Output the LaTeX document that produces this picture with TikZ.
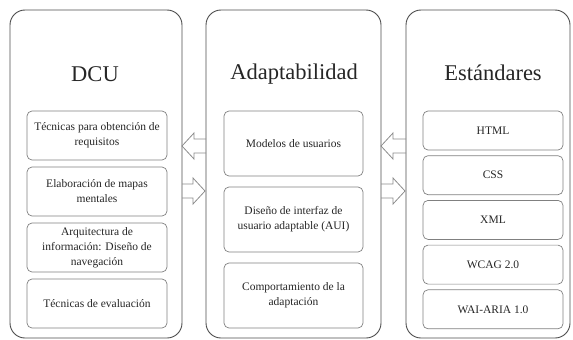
\documentclass[tikz,border=0pt]{standalone}
\usepackage{fontspec}
\setmainfont{Liberation Serif}
\begin{document}
\begin{tikzpicture}[x=1pt,y=-1pt,
  panel/.style={draw=black!70,line width=0.9pt,rounded corners=15pt,minimum height=328pt,inner sep=0pt},
  item/.style={draw=black!50,line width=0.7pt,rounded corners=5pt,minimum width=140pt,inner sep=2pt,
    align=center,font=\fontsize{11.5}{15}\selectfont,text=black!85},
  ttl/.style={font=\fontsize{22.5}{26}\selectfont,text=black!85},
  barrow/.style={draw=black!45,line width=0.8pt,line join=miter}]
\useasboundingbox (0,0) rectangle (573,340);
% panels
\node[panel,minimum width=172pt] (dcu) at (96,174) {};
\node[panel,minimum width=175pt] (ada) at (293.5,174) {};
\node[panel,minimum width=164pt] (est) at (488,174) {};
% titles
\node[ttl] (tdcu) at (95,74) {DCU};
\node[ttl] (tada) at (294,74) {Adaptabilidad};
\node[ttl] (test) at (493,73) {Estándares};
% DCU items
\node[item,minimum height=49pt] (d1) at (97,135.5) {Técnicas para obtención de\\requisitos};
\node[item,minimum height=49pt] (d2) at (97,191.5) {Elaboración de mapas\\mentales};
\node[item,minimum height=49pt] (d3) at (97,247.5) {Arquitectura de\\información: Diseño de\\navegación};
\node[item,minimum height=49pt] (d4) at (97,303.5) {Técnicas de evaluación};
% Adaptabilidad items
\node[item,minimum width=139pt,minimum height=65pt] (a1) at (293.5,143.5) {Modelos de usuarios};
\node[item,minimum width=139pt,minimum height=65pt] (a2) at (293.5,219.5) {Diseño de interfaz de\\usuario adaptable (AUI)};
\node[item,minimum width=139pt,minimum height=65pt] (a3) at (293.5,295.5) {Comportamiento de la\\adaptación};
% Estandares items
\node[item,minimum height=39pt] (e1) at (493,130.5) {HTML};
\node[item,minimum height=39pt] (e2) at (493,175.2) {CSS};
\node[item,minimum height=39pt] (e3) at (493,219.9) {XML};
\node[item,minimum height=39pt] (e4) at (493,264.6) {WCAG 2.0};
\node[item,minimum height=39pt] (e5) at (493,309.3) {WAI-ARIA 1.0};
% block arrows
\draw[barrow] (206,139) -- (194,139) -- (194,133) -- (182,146) -- (194,159) -- (194,153) -- (206,153);
\draw[barrow] (182,184) -- (193,184) -- (193,178) -- (205,191) -- (193,204) -- (193,198) -- (182,198);
\draw[barrow] (406,139) -- (393,139) -- (393,133) -- (381,146) -- (393,159) -- (393,153) -- (406,153);
\draw[barrow] (381,184) -- (393,184) -- (393,178) -- (405,191) -- (393,204) -- (393,198) -- (381,198);
\end{tikzpicture}
\end{document}
